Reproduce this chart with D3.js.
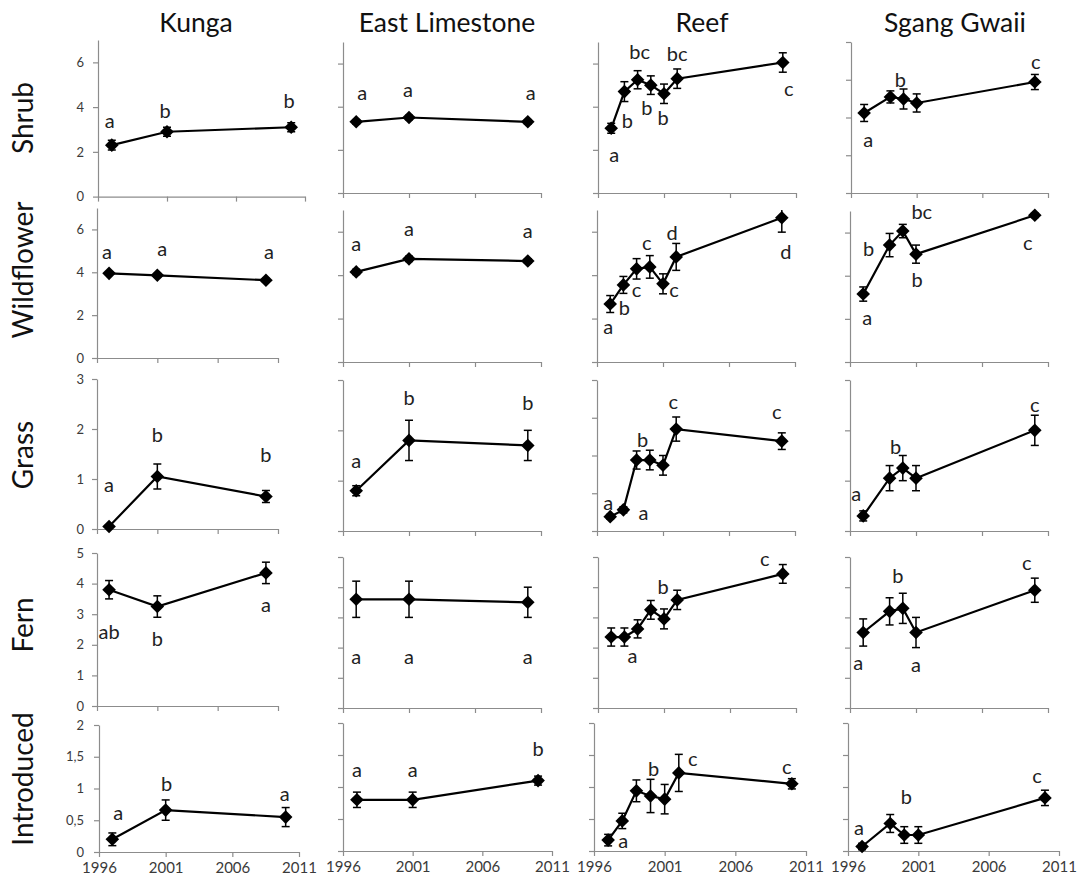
<!DOCTYPE html>
<html><head><meta charset="utf-8">
<script src="https://cdn.jsdelivr.net/npm/d3@7"></script>
<style>body{margin:0;background:#fff}</style>
</head><body>
<svg id="c" width="1077" height="883"></svg>
<script>
// ---------- DATA ----------
const sites = ["Kunga", "East Limestone", "Reef", "Sgang Gwaii"];
const groups = ["Shrub", "Wildflower", "Grass", "Fern", "Introduced"];
const xTicks = [1996, 2001, 2006, 2011];
const siteYears = [
  [1997, 2001, 2010],
  [1997, 2001, 2010],
  [1997, 1998, 1999, 2000, 2001, 2002, 2010],
  [1997, 1999, 2000, 2001, 2010]
];
// y tick labels shown on the first column
const shrubTicks = [0, 2, 4, 6];
const wildflowerTicks = [0, 2, 4, 6];
const grassTicks = [0, 1, 2, 3];
const fernTicks = [0, 1, 2, 3, 4, 5];
const introducedTicks = [0, 0.5, 1, 1.5, 2];

const shrubMean = [[2.3, 2.9, 3.1], [3.3, 3.5, 3.3], [3.0, 4.7, 5.25, 5.0, 4.6, 5.3, 6.05], [4.24, 5.09, 4.98, 4.77, 5.88]];
const shrubErr = [[0.22, 0.2, 0.2], [0.1, 0.1, 0.1], [0.23, 0.46, 0.42, 0.43, 0.45, 0.45, 0.45], [0.45, 0.32, 0.53, 0.48, 0.4]];
const shrubLetters = [["a", "b", "b"], ["a", "a", "a"], ["a", "b", "bc", "b", "b", "bc", "c"], ["a", "b", "", "", "c"]];

const wildflowerMean = [[3.95, 3.86, 3.63], [4.15, 4.75, 4.65], [2.67, 3.55, 4.29, 4.38, 3.6, 4.84, 6.64], [3.15, 5.42, 6.07, 5.0, 6.8]];
const wildflowerErr = [[0.08, 0.08, 0.08], [0.12, 0.12, 0.1], [0.39, 0.39, 0.47, 0.52, 0.46, 0.62, 0.66], [0.33, 0.54, 0.31, 0.42, 0.1]];
const wildflowerLetters = [["a", "a", "a"], ["a", "a", "a"], ["a", "b", "c", "c", "c", "d", "d"], ["a", "b", "bc", "b", "c"]];

const grassMean = [[0.05, 1.05, 0.65], [0.8, 1.8, 1.7], [0.19, 0.28, 0.94, 0.94, 0.87, 1.35, 1.19], [0.3, 1.05, 1.25, 1.05, 2.0]];
const grassErr = [[0.02, 0.25, 0.12], [0.1, 0.4, 0.3], [0.03, 0.04, 0.12, 0.13, 0.13, 0.16, 0.11], [0.1, 0.25, 0.25, 0.25, 0.3]];
const grassLetters = [["a", "b", "b"], ["a", "b", "b"], ["a", "a", "b", "", "", "c", "c"], ["a", "b", "", "", "c"]];

const fernMean = [[3.8, 3.25, 4.35], [3.6, 3.6, 3.5], [2.35, 2.35, 2.62, 3.25, 2.95, 3.58, 4.44], [2.5, 3.2, 3.3, 2.5, 3.9]];
const fernErr = [[0.3, 0.35, 0.35], [0.6, 0.6, 0.5], [0.3, 0.3, 0.3, 0.31, 0.33, 0.32, 0.31], [0.45, 0.45, 0.5, 0.5, 0.4]];
const fernLetters = [["ab", "b", "a"], ["a", "a", "a"], ["", "", "a", "", "b", "", "c"], ["a", "", "b", "a", "c"]];

const introducedMean = [[0.2, 0.66, 0.55], [0.8, 0.8, 1.1], [0.17, 0.47, 0.94, 0.86, 0.81, 1.22, 1.05], [0.07, 0.43, 0.25, 0.25, 0.83]];
const introducedErr = [[0.1, 0.16, 0.15], [0.12, 0.12, 0.07], [0.09, 0.12, 0.17, 0.26, 0.23, 0.29, 0.08], [0.05, 0.14, 0.13, 0.13, 0.12]];
const introducedLetters = [["a", "b", "a"], ["a", "a", "b"], ["a", "", "", "b", "", "c", "c"], ["a", "", "b", "", "c"]];

// ---------- LAYOUT (pixels, per row / column) ----------
const panelX = [
  [[98, 305], [343, 541], [598, 796], [851, 1048]],
  [[97, 278], [343, 541], [597, 795], [850, 1048]],
  [[97, 278], [343, 541], [597, 795], [850, 1048]],
  [[97, 278], [343, 541], [598, 796], [850, 1048]],
  [[99, 299], [343, 552], [594, 806], [848, 1059]]
];
const panelY = [
  [[40, 196.6], [42, 193], [42, 193], [42, 193]],
  [[208, 358], [210, 362], [210, 362], [211, 362]],
  [[379, 529], [380, 531], [380, 531], [380, 531]],
  [[553, 706], [557, 708], [557, 708], [557, 708]],
  [[725, 852], [723, 851], [723, 851], [723, 851]]
];
const yMax = [[7, 7, 7, 8], [7, 7, 7, 7], [3, 3, 2, 3], [5, 5, 5, 5], [2, 2, 2, 2]];
const yStep = [[2, 2, 2, 2], [2, 2, 2, 2], [1, 1, 0.5, 1], [1, 1, 1, 1], [0.5, 0.5, 0.5, 0.5]];
// letter offsets [dx, dy] from each point's marker
const letterOff = [
  [[[-2, -24], [-2, -21], [-2, -26]], [[6, -29], [-1, -28], [3, -29]],
   [[3, 27], [3, 29], [2, -28], [-4, 23], [-1, 24], [0, -25], [6, 27]],
   [[4, 27], [10, -17], null, null, [1, -20]]],
  [[[-2, -21], [5, -26], [3, -28]], [[0, -28], [0, -30], [0, -30]],
   [[-2, 23], [1, 23], [0, 21], [-3, -24], [11, 6], [-4, -24], [4, 34]],
   [[4, 24], [-21, 4], [19, -19], [1, 26], [-7, 28]]],
  [[[0, -42], [0, -42], [0, -42]], [[0, -30], [0, -42], [0, -42]],
   [[-2, -14], [20, 3], [6, -20], null, null, [-3, -27], [-5, -29]],
   [[-7, -22], [6, -31], null, null, [0, -25]]],
  [[[0, 42], [0, 32], [0, 32]], [[0, 58], [0, 58], [0, 55]],
   [null, null, [-5, 27], null, [-1, -32], null, [-18, -15]],
   [[-5, 30], null, [-5, -32], [0, 32], [-8, -27]]],
  [[[6, -26], [1, -26], [-1, -23]], [[0, -30], [0, -30], [0, -32]],
   [[15, 1], null, null, [3, -27], null, [14, -14], [-5, -17]],
   [[-3, -19], null, [2, -38], null, [-8, -22]]]
];
const titleX = [196, 447, 702, 955];
const rowLabelY = [118, 270, 455, 625, 779];

// ---------- DRAW ----------
const svg = d3.select("#c");
const FONT = "Lato, 'Open Sans', sans-serif";
const AXIS = "#8c8c8c";
const means = [shrubMean, wildflowerMean, grassMean, fernMean, introducedMean];
const errs = [shrubErr, wildflowerErr, grassErr, fernErr, introducedErr];
const letters = [shrubLetters, wildflowerLetters, grassLetters, fernLetters, introducedLetters];
const tickSets = [shrubTicks, wildflowerTicks, grassTicks, fernTicks, introducedTicks];
const fmt = v => String(v).replace(".", ",");

sites.forEach((s, c) => {
  svg.append("text").attr("x", titleX[c]).attr("y", 32).attr("text-anchor", "middle")
    .style("font-family", FONT).style("font-size", "26.5px").style("fill", "#111").text(s);
});
groups.forEach((g, r) => {
  svg.append("text").attr("transform", `translate(33,${rowLabelY[r]}) rotate(-90)`)
    .attr("text-anchor", "middle").style("font-family", FONT).style("font-size", "28px")
    .style("fill", "#111").text(g);
});

const defs = svg.append("defs");
const diamond = "M0,-6.8L6.8,0L0,6.8L-6.8,0Z";

groups.forEach((g, r) => {
  sites.forEach((s, c) => {
    const x = d3.scaleLinear().domain([1996, 2011]).range(panelX[r][c]);
    const y = d3.scaleLinear().domain([0, yMax[r][c]]).range([panelY[r][c][1], panelY[r][c][0]]);
    const gp = svg.append("g");
    const tv = c === 0 ? tickSets[r] : d3.range(0, yMax[r][c] + 1e-9, yStep[r][c]);
    const ya = d3.axisLeft(y).tickValues(tv).tickSize(5).tickSizeOuter(0).tickFormat(c === 0 ? fmt : () => "");
    const yg = gp.append("g").attr("transform", `translate(${panelX[r][c][0]},0)`).call(ya);
    const xa = d3.axisBottom(x).tickValues(xTicks).tickSize(5).tickSizeOuter(0)
      .tickFormat(r === 4 ? d3.format("d") : () => "");
    const xg = gp.append("g").attr("transform", `translate(0,${panelY[r][c][1]})`).call(xa);
    [yg, xg].forEach(a => {
      a.select(".domain").attr("stroke", AXIS).attr("stroke-width", 1.2);
      a.selectAll(".tick line").attr("stroke", AXIS).attr("stroke-width", 1.2);
      a.selectAll("text").style("font-family", FONT).style("fill", "#3a3a3a");
    });
    yg.selectAll("text").style("font-size", "13px").attr("x", -(panelX[r][c][0] - 84));
    xg.selectAll("text").style("font-size", "15px").attr("y", 10);

    const yrs = siteYears[c];
    const m = means[r][c], e = errs[r][c];
    const pts = yrs.map((yr, i) => ({ yr, v: m[i], e: e[i], l: letters[r][c][i], o: letterOff[r][c][i] }));
    const cid = `clip${r}${c}`;
    defs.append("clipPath").attr("id", cid).append("rect")
      .attr("x", 0).attr("width", 1077).attr("y", panelY[r][c][0])
      .attr("height", panelY[r][c][1] - panelY[r][c][0] + 20);
    const eb = gp.append("g").attr("clip-path", `url(#${cid})`);
    pts.forEach(p => {
      const px = x(p.yr), y1 = y(p.v + p.e), y2 = y(p.v - p.e);
      eb.append("line").attr("x1", px).attr("x2", px).attr("y1", y1).attr("y2", y2).attr("stroke", "#000").attr("stroke-width", 1.5);
      [y1, y2].forEach(yy => eb.append("line").attr("x1", px - 4).attr("x2", px + 4).attr("y1", yy).attr("y2", yy).attr("stroke", "#000").attr("stroke-width", 1.5));
    });
    gp.append("path").datum(pts).attr("fill", "none").attr("stroke", "#000").attr("stroke-width", 2.2)
      .attr("d", d3.line().x(p => x(p.yr)).y(p => y(p.v)));
    gp.selectAll("path.mk").data(pts).join("path").attr("class", "mk").attr("d", diamond)
      .attr("transform", p => `translate(${x(p.yr)},${y(p.v)})`).attr("fill", "#000");
    gp.selectAll("text.lt").data(pts.filter(p => p.l && p.o)).join("text").attr("class", "lt")
      .attr("x", p => x(p.yr) + p.o[0]).attr("y", p => y(p.v) + p.o[1] + 7)
      .attr("text-anchor", "middle").style("font-family", FONT).style("font-size", "20px")
      .style("fill", "#222").text(p => p.l);
  });
});
</script>
</body></html>
